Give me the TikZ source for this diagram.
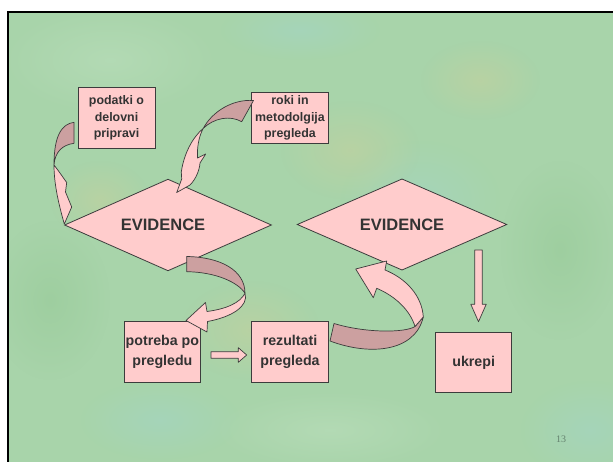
\documentclass[tikz,border=0pt]{standalone}
\usepackage{fontspec}
\setmainfont{Liberation Sans}
\newfontfamily\numfont{Liberation Serif}
\usetikzlibrary{shapes.geometric,fadings}
\definecolor{pinkc}{RGB}{255,204,204}
\definecolor{darkpink}{RGB}{204,160,160}
\definecolor{outl}{RGB}{60,60,60}
\definecolor{txt}{RGB}{51,51,51}
\definecolor{bgc}{RGB}{168,212,170}
\definecolor{tanc}{RGB}{214,206,150}
\definecolor{cyanc}{RGB}{160,214,214}
\definecolor{paleg}{RGB}{200,230,200}
\definecolor{deepg}{RGB}{140,196,140}
\definecolor{pgnum}{RGB}{100,130,110}
\tikzfading[name=fuzzyblob, inner color=transparent!0, outer color=transparent!100]
\begin{document}
\begin{tikzpicture}[x=1pt,y=-1pt,
  boxs/.style={draw=outl, fill=pinkc, line width=0.8pt, inner sep=0pt, outer sep=0pt,
    align=center, text=txt},
  smalltxt/.style={font=\fontsize{12.4}{16.6}\selectfont\bfseries},
  bigtxt/.style={font=\fontsize{14.2}{20}\selectfont\bfseries},
  diam/.style={diamond, draw=outl, fill=pinkc, line width=0.8pt, inner sep=0pt, outer sep=0pt,
    aspect=2.3, text=txt, font=\fontsize{16.5}{18}\selectfont\bfseries},
  arrdark/.style={draw=outl, fill=darkpink, line width=0.7pt, line join=round},
  arrlight/.style={draw=outl, fill=pinkc, line width=0.7pt, line join=round},
  blob/.style={fill opacity=0.35, path fading=fuzzyblob}]
\useasboundingbox (0,0) rectangle (613,462);
\fill[white] (0,0) rectangle (613,462);
\fill[bgc] (8,12) rectangle (613,462);
\begin{scope}
\clip (8,12) rectangle (613,462);
\fill[blob, paleg] (110,60) ellipse [x radius=110, y radius=55];
\fill[blob, cyanc] (420,200) ellipse [x radius=80, y radius=60];
\fill[blob, tanc] (350,150) ellipse [x radius=70, y radius=50];
\fill[blob, tanc] (250,330) ellipse [x radius=70, y radius=50];
\fill[blob, tanc] (480,80) ellipse [x radius=60, y radius=40];
\fill[blob, cyanc] (590,430) ellipse [x radius=70, y radius=50];
\fill[blob, cyanc] (300,30) ellipse [x radius=80, y radius=30];
\fill[blob, deepg] (50,300) ellipse [x radius=60, y radius=80];
\fill[blob, deepg] (560,250) ellipse [x radius=60, y radius=90];
\fill[blob, paleg] (330,430) ellipse [x radius=120, y radius=40];
\fill[blob, cyanc] (160,420) ellipse [x radius=80, y radius=40];
\fill[blob, tanc] (100,200) ellipse [x radius=50, y radius=40];
\end{scope}
\draw[line width=2.3pt] (8.3,462) -- (8.3,12.2) -- (613,12.2);

% nodes
\node[boxs, smalltxt, minimum width=77pt, minimum height=61pt] (podatki) at (116.5,117.8)
  {podatki o\\delovni\\pripravi};
\node[boxs, smalltxt, minimum width=76.6pt, minimum height=50.6pt] (roki) at (290,118)
  {roki in\\metodolgija\\pregleda};
\node[diam, minimum width=206.7pt, minimum height=91.4pt] (ev1) at (168,225) {};
\node[text=txt, font=\fontsize{16.5}{18}\selectfont\bfseries] (ev1t) at (163,225) {EVIDENCE};
\node[diam, minimum width=209.4pt, minimum height=91pt] (ev2) at (402,224.5) {EVIDENCE};
\node[boxs, bigtxt, minimum width=76.7pt, minimum height=61pt] (potreba) at (162.4,352.3)
  {potreba po\\pregledu};
\node[boxs, bigtxt, minimum width=76.6pt, minimum height=61pt] (rezultati) at (290,352.3)
  {rezultati\\pregleda};
\node[boxs, bigtxt, minimum width=76pt, minimum height=60.4pt] (ukrepi) at (473.7,362.5)
  {ukrepi};
\node[font=\numfont\fontsize{10}{12}\selectfont, text=pgnum] (pg) at (561,439) {13};

% arrow 1: podatki -> ev1
\draw[arrdark] (74,122.3) .. controls (62,124) and (54,135) .. (54,165)
  .. controls (55,152) and (62,145) .. (74,143.3) -- cycle;
\draw[arrlight] (54,165) .. controls (54,185) and (59,205) .. (64.3,224)
  -- (71.7,207) -- (65.5,192) -- (66.7,182.5)
  .. controls (62,176) and (58,170) .. (54,165) -- cycle;

% arrow 2: roki -> ev1
\draw[arrdark] (253.5,100.5) .. controls (232,99) and (212,112) .. (203.3,128.3)
  .. controls (214,118) and (230,115) .. (241.7,121.7) -- cycle;
\draw[arrlight] (203.3,128.3) .. controls (193,137) and (184,153) .. (181.3,172)
  -- (181.7,179) -- (176.7,192.5) -- (190,185)
  .. controls (196,179) and (199.5,170) .. (200,163) -- (205.7,154) -- (197.5,158)
  .. controls (197,148) and (198.5,137) .. (203.3,128.3) -- cycle;

% arrow 3: ev1 -> potreba
\draw[arrdark] (186.7,256.5) .. controls (220,257) and (245,270) .. (245,293.3)
  .. controls (238,282) and (215,272) .. (186.7,271.7) -- cycle;
\draw[arrlight] (245,293.3) .. controls (249,306) and (232,317) .. (207.5,321.5)
  -- (207,332) -- (186,320.5) -- (205.5,302.5) -- (207,311.5)
  .. controls (226,309) and (240,303) .. (245,293.3) -- cycle;

% arrow 4: rezultati -> ev2
\draw[arrdark] (334,323.5) -- (330,341) .. controls (370,356) and (415,352) .. (423.3,317)
  -- (415,326.5) .. controls (405,333) and (365,333) .. (334,323.5) -- cycle;
\draw[arrlight] (423.3,317) .. controls (422,295) and (405,278) .. (385,270)
  -- (386.7,261) -- (355.7,269) -- (373.3,297.7) -- (376.7,288.3)
  .. controls (395,296) and (410,310) .. (415,326.5) -- cycle;

% straight arrow potreba -> rezultati
\draw[arrlight] (211,351.7) -- (238.3,351.7) -- (238.3,347.7) -- (246.7,355)
  -- (238.3,362.3) -- (238.3,358.3) -- (211,358.3) -- cycle;

% down arrow ev2 -> ukrepi
\draw[arrlight] (474.8,250) -- (482.2,250) -- (482.2,304.3) -- (486.2,304.3)
  -- (478.5,321.7) -- (470.8,304.3) -- (474.8,304.3) -- cycle;
\end{tikzpicture}
\end{document}
